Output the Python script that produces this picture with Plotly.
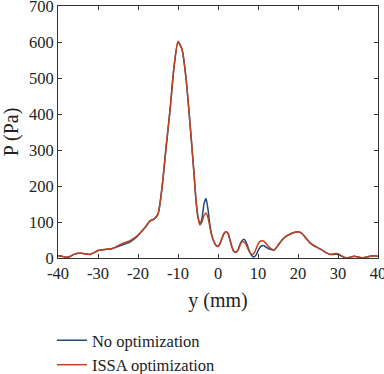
import plotly.graph_objects as go

# Position y (mm)
y_mm = [-40, -39, -38, -37, -36, -35, -34, -33, -32, -31, -30, -29, -28, -27, -26,
        -25, -24, -23, -22, -21, -20, -19, -18, -17, -16, -15, -14, -13, -12, -11,
        -10, -9, -8, -7, -6, -5.5, -5, -4.5, -4, -3.5, -3, -2.5, -2, -1.5, -1, -0.5,
        0, 0.5, 1, 1.5, 2, 2.5, 3, 3.5, 4, 4.5, 5, 5.5, 6, 6.5, 7, 7.5, 8, 8.5, 9,
        9.5, 10, 10.5, 11, 11.5, 12, 13, 14, 15, 16, 17, 18, 19, 20, 21, 22, 23, 24,
        25, 26, 27, 28, 29, 30, 31, 32, 33, 34, 35, 36, 37, 38, 39, 40]

# Pressure P (Pa), no optimization
p_no_opt = [6, 5, 2, 4, 10, 13, 13, 11, 10, 15, 21, 23, 24, 25, 28,
            32, 36, 40, 44, 52, 62, 75, 88, 103, 108, 122, 195, 305, 410, 530,
            600, 580, 500, 374, 235, 160, 115, 93, 110, 150, 165, 135, 90, 60, 45, 35,
            32, 40, 55, 68, 73, 68, 50, 30, 18, 16, 22, 38, 48, 52, 45, 30, 15, 6, 3,
            8, 20, 30, 34, 34, 30, 24, 22, 35, 50, 60, 66, 71, 73, 68, 55, 42, 34,
            28, 22, 15, 10, 10, 10, 5, 0, 2, 5, 3, 0, 2, 5, 6, 5]

# Pressure P (Pa), ISSA optimization
p_issa = [6, 5, 2, 4, 10, 13, 13, 11, 10, 15, 21, 23, 24, 25, 28,
          34, 40, 44, 48, 55, 64, 75, 88, 103, 108, 122, 195, 305, 410, 530,
          602, 580, 500, 374, 235, 160, 112, 92, 100, 118, 125, 112, 85, 60, 45, 35,
          32, 40, 55, 68, 73, 68, 50, 30, 18, 16, 22, 36, 45, 45, 38, 25, 15, 10, 13,
          25, 38, 46, 48, 46, 40, 28, 22, 35, 50, 60, 66, 71, 73, 68, 55, 42, 34,
          28, 22, 15, 10, 12, 12, 5, 0, 2, 5, 3, 0, 2, 5, 6, 5]

x_tick_vals = [-40, -30, -20, -10, 0, 10, 20, 30, 40]
x_tick_text = ["-40", "-30", "-20", "-10", "0", "10", "20", "30", "40"]
y_tick_vals = [0, 100, 200, 300, 400, 500, 600, 700]

series_names = ["No optimization", "ISSA optimization"]
series_colors = ["#22487a", "#c0431f"]

FONT = "'Liberation Serif', 'Times New Roman', serif"
FS = 16.5

fig = go.Figure()
for name, vals, col in zip(series_names, [p_no_opt, p_issa], series_colors):
    fig.add_trace(go.Scatter(x=y_mm, y=vals, mode="lines", name=name,
                             line=dict(color=col, width=1.5, shape="spline", smoothing=0.6)))

fig.update_layout(
    width=384, height=374,
    margin=dict(l=58, r=6, t=6, b=116, autoexpand=False),
    paper_bgcolor="white", plot_bgcolor="white",
    font=dict(family=FONT, size=FS, color="#222"),
    showlegend=True,
    legend=dict(x=-0.019, y=-0.258, xanchor="left", yanchor="top",
                font=dict(family=FONT, size=FS, color="#222"),
                bgcolor="rgba(0,0,0,0)", itemwidth=30, tracegroupgap=0),
    xaxis=dict(range=[-40, 40], tickvals=x_tick_vals, ticktext=x_tick_text,
               ticks="inside", ticklen=4, tickcolor="#333", showline=True,
               linecolor="#333", linewidth=1, mirror="ticks", showgrid=False,
               zeroline=False, title=dict(text="y (mm)", standoff=11),
               tickfont=dict(family=FONT, size=FS), automargin=False,
               ticklabeloverflow="allow"),
    yaxis=dict(range=[0, 700], tickvals=y_tick_vals,
               ticks="inside", ticklen=4, tickcolor="#333", showline=True,
               linecolor="#333", linewidth=1, mirror="ticks", showgrid=False,
               zeroline=False, title=dict(text="P (Pa)", standoff=15),
               tickfont=dict(family=FONT, size=FS), automargin=False,
               ticklabeloverflow="allow"),
)

fig.write_html("out.html",
               config={"displayModeBar": False},
               post_script="document.body.style.margin='0px';document.body.style.overflow='hidden';")
